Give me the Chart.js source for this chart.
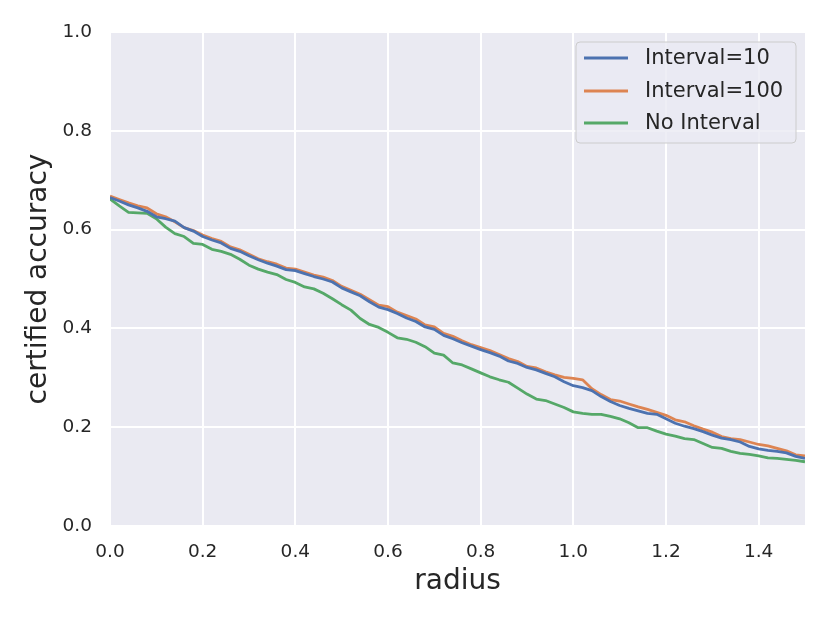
<!DOCTYPE html>
<html>
<head>
<meta charset="utf-8">
<script src="https://cdn.jsdelivr.net/npm/chart.js@4.4.1/dist/chart.umd.min.js"></script>
<style>
html,body{margin:0;padding:0;background:#fff;}
#wrap{width:830px;height:623px;position:relative;}
</style>
</head>
<body>
<div id="wrap"><canvas id="c" width="830" height="623"></canvas></div>
<script>
const radius = [0.00,0.02,0.04,0.06,0.08,0.10,0.12,0.14,0.16,0.18,0.20,0.22,0.24,0.26,0.28,0.30,0.32,0.34,0.36,0.38,0.40,0.42,0.44,0.46,0.48,0.50,0.52,0.54,0.56,0.58,0.60,0.62,0.64,0.66,0.68,0.70,0.72,0.74,0.76,0.78,0.80,0.82,0.84,0.86,0.88,0.90,0.92,0.94,0.96,0.98,1.00,1.02,1.04,1.06,1.08,1.10,1.12,1.14,1.16,1.18,1.20,1.22,1.24,1.26,1.28,1.30,1.32,1.34,1.36,1.38,1.40,1.42,1.44,1.46,1.48,1.50];

const interval10 = [0.665,0.658,0.650,0.644,0.637,0.626,0.622,0.617,0.604,0.597,0.586,0.579,0.573,0.562,0.556,0.547,0.539,0.532,0.526,0.519,0.517,0.511,0.505,0.500,0.494,0.482,0.474,0.466,0.454,0.443,0.438,0.430,0.421,0.414,0.403,0.398,0.386,0.379,0.371,0.364,0.357,0.351,0.344,0.334,0.329,0.321,0.316,0.309,0.302,0.292,0.284,0.280,0.274,0.262,0.252,0.244,0.238,0.233,0.228,0.226,0.217,0.208,0.202,0.197,0.191,0.184,0.178,0.175,0.170,0.161,0.156,0.153,0.151,0.148,0.141,0.137];

const interval100 = [0.668,0.661,0.654,0.648,0.644,0.632,0.626,0.616,0.604,0.598,0.589,0.582,0.576,0.565,0.559,0.550,0.541,0.535,0.530,0.522,0.520,0.514,0.508,0.504,0.497,0.485,0.477,0.469,0.458,0.447,0.444,0.433,0.426,0.419,0.407,0.403,0.390,0.384,0.375,0.367,0.361,0.355,0.347,0.339,0.333,0.323,0.320,0.312,0.306,0.301,0.299,0.296,0.278,0.266,0.256,0.253,0.247,0.241,0.236,0.230,0.224,0.215,0.211,0.203,0.196,0.190,0.181,0.177,0.175,0.170,0.165,0.162,0.157,0.152,0.144,0.142];

const noInterval = [0.662,0.648,0.635,0.634,0.633,0.622,0.605,0.592,0.586,0.572,0.570,0.560,0.556,0.550,0.540,0.528,0.520,0.514,0.509,0.499,0.493,0.484,0.480,0.471,0.460,0.448,0.437,0.420,0.408,0.402,0.392,0.381,0.378,0.372,0.363,0.350,0.346,0.330,0.326,0.318,0.310,0.302,0.296,0.291,0.279,0.267,0.257,0.254,0.247,0.240,0.231,0.228,0.226,0.226,0.222,0.217,0.209,0.199,0.199,0.192,0.186,0.182,0.177,0.175,0.167,0.159,0.157,0.151,0.147,0.145,0.142,0.138,0.137,0.135,0.133,0.130];

const seriesNames = ["Interval=10","Interval=100","No Interval"];
const xTicks = [0.0,0.2,0.4,0.6,0.8,1.0,1.2,1.4];
const yTicks = [0.0,0.2,0.4,0.6,0.8,1.0];
const colors = ["#4C72B0","#DD8452","#55A868"];
const FONT = "'DejaVu Sans', sans-serif";
const TXT = "#262626";

function pts(vals){ return radius.map((r,i)=>({x:r,y:vals[i]})); }

const bgPlugin = {
  id:'bg',
  beforeDraw(chart){
    const {ctx, chartArea:a} = chart;
    ctx.save();
    ctx.fillStyle = '#EAEAF2';
    ctx.fillRect(a.left, a.top, a.right-a.left, a.bottom-a.top);
    ctx.restore();
  }
};

const legendPlugin = {
  id:'customLegend',
  afterDraw(chart){
    const ctx = chart.ctx;
    const x0 = 576, y0 = 42, w = 220, h = 101, r = 4;
    ctx.save();
    ctx.beginPath();
    ctx.moveTo(x0+r,y0); ctx.lineTo(x0+w-r,y0); ctx.quadraticCurveTo(x0+w,y0,x0+w,y0+r);
    ctx.lineTo(x0+w,y0+h-r); ctx.quadraticCurveTo(x0+w,y0+h,x0+w-r,y0+h);
    ctx.lineTo(x0+r,y0+h); ctx.quadraticCurveTo(x0,y0+h,x0,y0+h-r);
    ctx.lineTo(x0,y0+r); ctx.quadraticCurveTo(x0,y0,x0+r,y0);
    ctx.closePath();
    ctx.fillStyle = 'rgba(234,234,242,0.8)';
    ctx.fill();
    ctx.strokeStyle = '#CCCCCC';
    ctx.lineWidth = 1;
    ctx.stroke();
    const rows = [58, 91, 123];
    chart.data.datasets.forEach((ds,i)=>{
      ctx.strokeStyle = ds.borderColor;
      ctx.lineWidth = 2.8;
      ctx.beginPath();
      ctx.moveTo(584, rows[i]); ctx.lineTo(628, rows[i]);
      ctx.stroke();
      ctx.fillStyle = TXT;
      ctx.font = "21px " + FONT;
      ctx.textBaseline = 'middle';
      ctx.textAlign = 'left';
      ctx.fillText(ds.label, 645, rows[i]+1);
    });
    ctx.restore();
  }
};

new Chart(document.getElementById('c'), {
  type:'line',
  data:{
    datasets:[
      {label:seriesNames[0], data:pts(interval10), borderColor:colors[0]},
      {label:seriesNames[1], data:pts(interval100), borderColor:colors[1]},
      {label:seriesNames[2], data:pts(noInterval), borderColor:colors[2]}
    ].map(d=>Object.assign(d,{borderWidth:2.8, pointRadius:0, fill:false, tension:0, borderJoinStyle:'round', borderCapStyle:'butt'}))
  },
  options:{
    responsive:false,
    animation:false,
    devicePixelRatio:1,
    layout:{padding:{top:32, right:25, left:0, bottom:0}},
    plugins:{legend:{display:false}, tooltip:{enabled:false}},
    scales:{
      x:{
        type:'linear', min:0, max:1.5,
        afterBuildTicks(s){ s.ticks = xTicks.map(v=>({value:v})); },
        afterFit(s){ s.height = 97; },
        grid:{color:'#FFFFFF', lineWidth:2, drawTicks:false},
        border:{display:false},
        ticks:{color:TXT, font:{family:FONT, size:18.5}, padding:15, maxRotation:0, callback:v=>v.toFixed(1)},
        title:{display:true, text:'radius', color:TXT, font:{family:FONT, size:28}, padding:{top:0,bottom:24}}
      },
      y:{
        type:'linear', min:0, max:1,
        afterBuildTicks(s){ s.ticks = yTicks.map(v=>({value:v})); },
        afterFit(s){ s.width = 110; },
        grid:{color:'#FFFFFF', lineWidth:2, drawTicks:false},
        border:{display:false},
        ticks:{color:TXT, font:{family:FONT, size:18.5}, padding:18, callback:v=>v.toFixed(1)},
        title:{display:true, text:'certified accuracy', color:TXT, font:{family:FONT, size:28}, padding:{top:22,bottom:0}}
      }
    }
  },
  plugins:[bgPlugin, legendPlugin]
});
</script>
</body>
</html>
